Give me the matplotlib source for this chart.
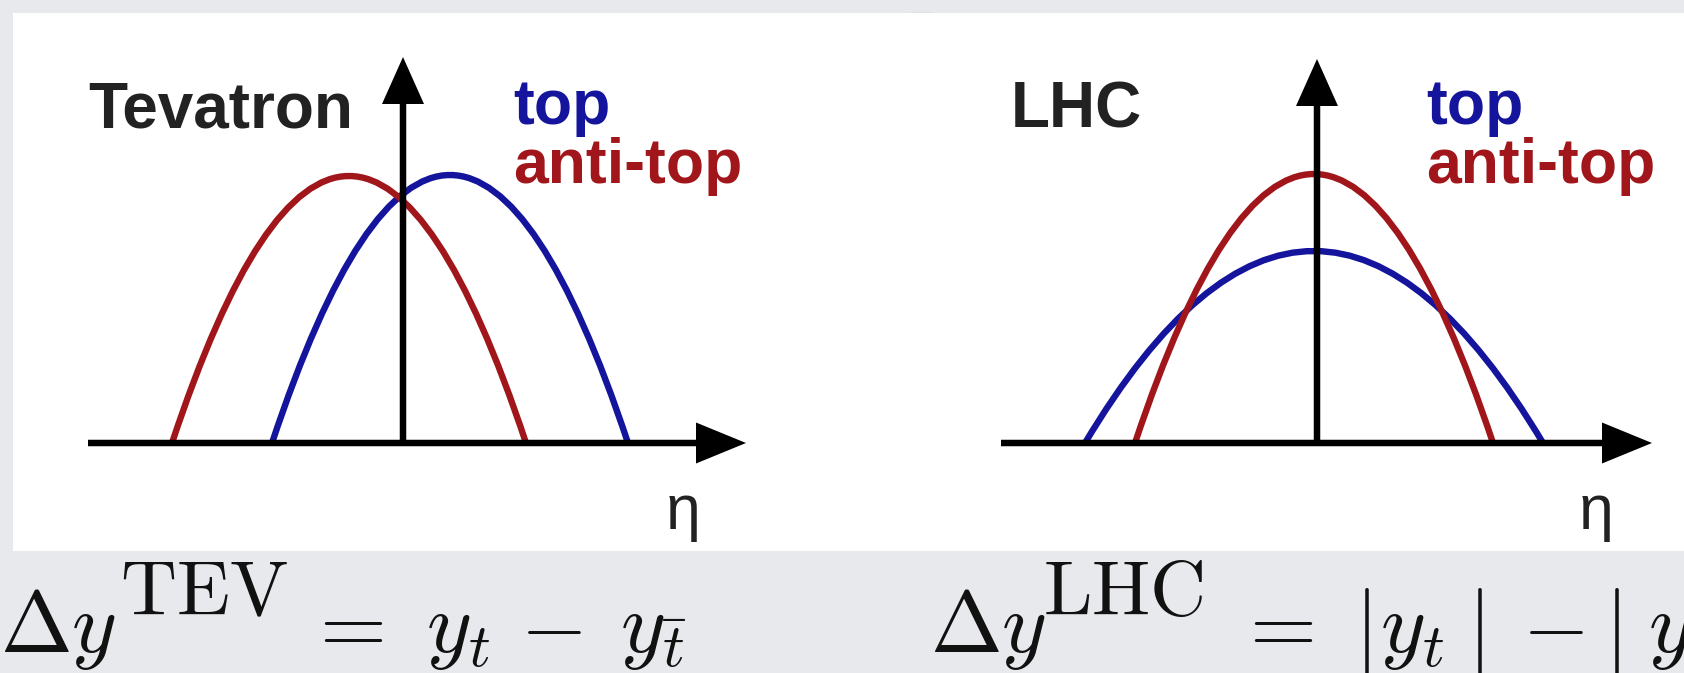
import matplotlib
matplotlib.use('Agg')
import matplotlib.pyplot as plt
from matplotlib.path import Path
from matplotlib.patches import PathPatch, Rectangle

# rapidity distributions, sketched as parabolic humps: start, end, peak height
species = ['top', 'anti-top']
colors = ['#14149c', '#a0161a']

tev_start = [-1.31, -2.31]
tev_end = [2.25, 1.23]
tev_peak = [2.68, 2.67]

lhc_start = [-2.32, -1.82]
lhc_end = [2.26, 1.76]
lhc_peak = [1.92, 2.69]

panel_names = ['Tevatron', 'LHC']

# asymmetry definitions, typeset piece by piece
formula_base = r'$\Delta y$'
formula_sup = [r'$\mathrm{TEV}$', r'$\mathrm{LHC}$']
formula_rhs = [[r'$=$', r'$y_t$', r'$-$', r'$y_{\bar t}$'],
               [r'$=$', r'$|$', r'$y_t$', r'$|$', r'$-$', r'$|$', r'$y_{\bar t}$']]
# left edge (px) of each piece
formula_x0 = [0, 930]
formula_sup_x = [120, 1043]
formula_rhs_x = [[304, 426, 520, 620],
                 [1234, 1354, 1380, 1467, 1522, 1604, 1648]]

BG = '#e8e9ec'
W, H = 1684, 673


def hump(ax, x0, x1, h, color):
    """Draw one parabolic hump as a quadratic bezier"""
    xc = 0.5 * (x0 + x1)
    path = Path([(x0, 0), (xc, 2 * h), (x1, 0)],
                [Path.MOVETO, Path.CURVE3, Path.CURVE3])
    ax.add_patch(PathPatch(path, fill=False, edgecolor=color, lw=4.6,
                           capstyle='butt', zorder=2))


def draw_panel(ax, name, starts, ends, peaks, xaxis, ytip, name_x, label_x):
    for x0, x1, h, c in zip(starts, ends, peaks, colors):
        hump(ax, x0, x1, h, c)

    # coordinate axes with arrow heads
    ax.arrow(xaxis[0], 0, xaxis[1] - xaxis[0], 0, width=0.065, head_width=0.41,
             head_length=0.5, length_includes_head=True, color='black', lw=0, zorder=3)
    ax.arrow(0, 0, 0, ytip, width=0.065, head_width=0.42, head_length=0.47,
             length_includes_head=True, color='black', lw=0, zorder=3)

    ax.text(name_x, 3.16, name, fontsize=46, fontweight='bold', color='#222222',
            family='Liberation Sans', va='baseline', ha='left')
    ax.text(label_x, 3.19, species[0], fontsize=45, fontweight='bold', color=colors[0],
            family='Liberation Sans', va='baseline', ha='left')
    ax.text(label_x, 2.60, species[1], fontsize=45, fontweight='bold', color=colors[1],
            family='Liberation Sans', va='baseline', ha='left')
    ax.text(label_x + 1.53, -0.86, '\u03b7', fontsize=45, color='#222222',
            family='Liberation Sans', va='baseline', ha='left')


def formula(fig, i):
    base_y = (H - 652) / H
    sup_y = (H - 615) / H
    fig.text(formula_x0[i] / W, base_y, formula_base, fontsize=62, color='#111111',
             va='baseline', ha='left')
    fig.text(formula_sup_x[i] / W, sup_y, formula_sup[i], fontsize=56,
             color='#111111', va='baseline', ha='left')
    for piece, x in zip(formula_rhs[i], formula_rhs_x[i]):
        fig.text(x / W, base_y, piece, fontsize=62, color='#111111',
                 va='baseline', ha='left')


def main():
    plt.rcParams['mathtext.fontset'] = 'cm'
    fig = plt.figure(figsize=(W / 100, H / 100), dpi=100, facecolor=BG)

    # white card behind both sketches
    fig.patches.append(Rectangle((13 / W, (H - 551) / H), 1, 538 / H,
                                 transform=fig.transFigure, facecolor='white',
                                 edgecolor='none', zorder=-1))
    fig.lines.append(plt.Line2D([912 / W, 932 / W], [(H - 14) / H] * 2,
                                transform=fig.transFigure, color='#333333',
                                lw=1.5, zorder=-1))

    ax_tev = fig.add_axes([0, 0, 0.5, 1], zorder=1)
    ax_tev.set_xlim(-4.03, 4.39)
    ax_tev.set_ylim(-2.30, 4.43)
    ax_tev.axis('off')
    draw_panel(ax_tev, panel_names[0], tev_start, tev_end, tev_peak,
               (-3.15, 3.43), 3.86, -3.15, 1.10)

    ax_lhc = fig.add_axes([0.5, 0, 0.5, 1], zorder=1)
    ax_lhc.set_xlim(-4.75, 3.67)
    ax_lhc.set_ylim(-2.30, 4.43)
    ax_lhc.axis('off')
    draw_panel(ax_lhc, panel_names[1], lhc_start, lhc_end, lhc_peak,
               (-3.16, 3.35), 3.84, -3.06, 1.09)

    formula(fig, 0)
    formula(fig, 1)

    fig.savefig('out.png', dpi=100, facecolor=BG)


if __name__ == '__main__':
    main()
